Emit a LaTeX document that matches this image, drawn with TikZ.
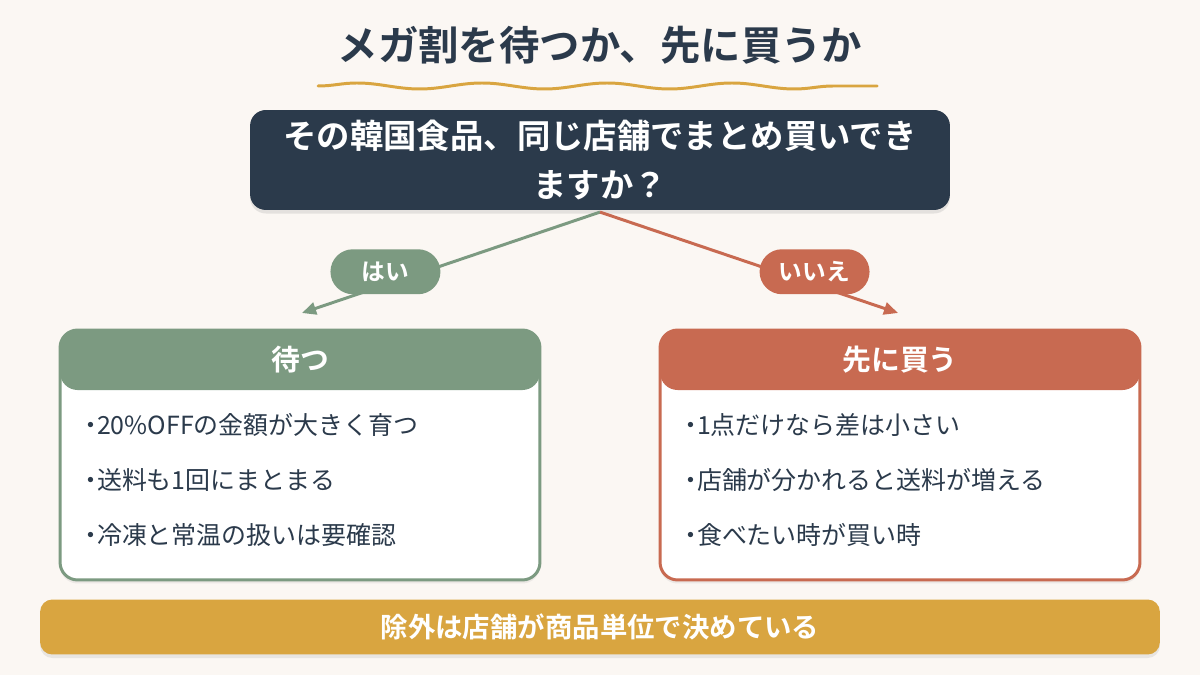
\documentclass[tikz,border=0pt]{standalone}
\usepackage{fontspec}
\setmainfont{Noto Sans CJK JP}[BoldFont={Noto Sans CJK JP Bold}]
\usepackage{tikz}
\usepackage{xcolor}
\usetikzlibrary{arrows.meta,positioning,shadows,decorations.pathmorphing}
\definecolor{cream}{HTML}{FBF7F3}
\definecolor{navy}{HTML}{2B3A4B}
\definecolor{sage}{HTML}{7C9A81}
\definecolor{terra}{HTML}{C86A51}
\definecolor{gold}{HTML}{D9A540}
\tikzset{
  question/.style={fill=navy,text=white,rounded corners=9pt,
                   minimum width=14cm,minimum height=2cm,align=center,
                   font=\fontsize{19}{28}\selectfont\bfseries,
                   drop shadow={opacity=0.18,shadow xshift=0pt,shadow yshift=-2pt}},
  card/.style={draw=#1,fill=white,line width=1.7pt,rounded corners=10pt,
               minimum width=9.6cm,minimum height=5cm,
               drop shadow={opacity=0.12,shadow xshift=0pt,shadow yshift=-2pt},
               path picture={\fill[#1] (path picture bounding box.north west)
                 rectangle ([yshift=-1.2cm]path picture bounding box.north east);}},
  headtxt/.style={text=white,font=\fontsize{16.4}{20}\selectfont\bfseries},
  item/.style={anchor=west,text=navy,inner sep=0pt,
               font=\fontsize{14.2}{18}\selectfont},
  pill/.style={fill=#1,text=white,rounded corners=0.45cm,
               minimum width=2.2cm,minimum height=0.9cm,
               font=\fontsize{13.5}{16}\selectfont\bfseries},
  branch/.style={-{Triangle[length=8pt,width=7pt]},line width=1.7pt,draw=#1},
  wave/.style={draw=gold,line width=1.7pt,line cap=round,
               decorate,decoration={snake,segment length=2.5cm,amplitude=0.06cm}},
  bar/.style={fill=gold,text=white,rounded corners=7pt,
              minimum width=22.4cm,minimum height=1.1cm,
              font=\fontsize{15.6}{20}\selectfont\bfseries,
              drop shadow={opacity=0.15,shadow xshift=0pt,shadow yshift=-2pt}}
}
\begin{document}
\begin{tikzpicture}[x=0.02cm,y=-0.02cm]
    \fill[cream] (0,0) rectangle (1200,675);
    \path[use as bounding box] (0,0) rectangle (1200,675);

    % title
    \node[text=navy,font=\fontsize{23}{28}\selectfont\bfseries] (title) at (600,45)
      {メガ割を待つか、先に買うか};
    \coordinate (wave-l) at (318,86);
    \coordinate (wave-r) at (877,86);
    \draw[wave] (wave-l) -- (wave-r);

    \node[question] (ask) at (600,160)
      {その韓国食品、同じ店舗でまとめ買いでき\\ますか？};

    % two branches
    \coordinate (yes-tip) at (302,313);
    \coordinate (no-tip) at (898,313);
    \draw[branch=sage] ([yshift=-1pt]ask.south) -- node[pill=sage,pos=0.72,yshift=0.26cm] (yes) {はい} (yes-tip);
    \draw[branch=terra] ([yshift=-1pt]ask.south) -- node[pill=terra,pos=0.72,yshift=0.26cm] (no) {いいえ} (no-tip);

    \node[card=sage] (wait) at (300,455) {};
    \node[headtxt] (wait-head) at (300,360) {待つ};
    \node[card=terra] (buy) at (900,455) {};
    \node[headtxt] (buy-head) at (900,360) {先に買う};

    \foreach \i/\txt in {1/20\%OFFの金額が大きく育つ,
                         2/送料も1回にまとまる,
                         3/冷凍と常温の扱いは要確認}{
      \node[item] (wait-\i) at (78,370+55*\i) {・\kern-0.25em\txt};
    }
    \foreach \i/\txt in {1/1点だけなら差は小さい,
                         2/店舗が分かれると送料が増える,
                         3/食べたい時が買い時}{
      \node[item] (buy-\i) at (678,370+55*\i) {・\kern-0.25em\txt};
    }

    \node[bar] (note) at (600,627) {除外は店舗が商品単位で決めている};
  \end{tikzpicture}
\end{document}
